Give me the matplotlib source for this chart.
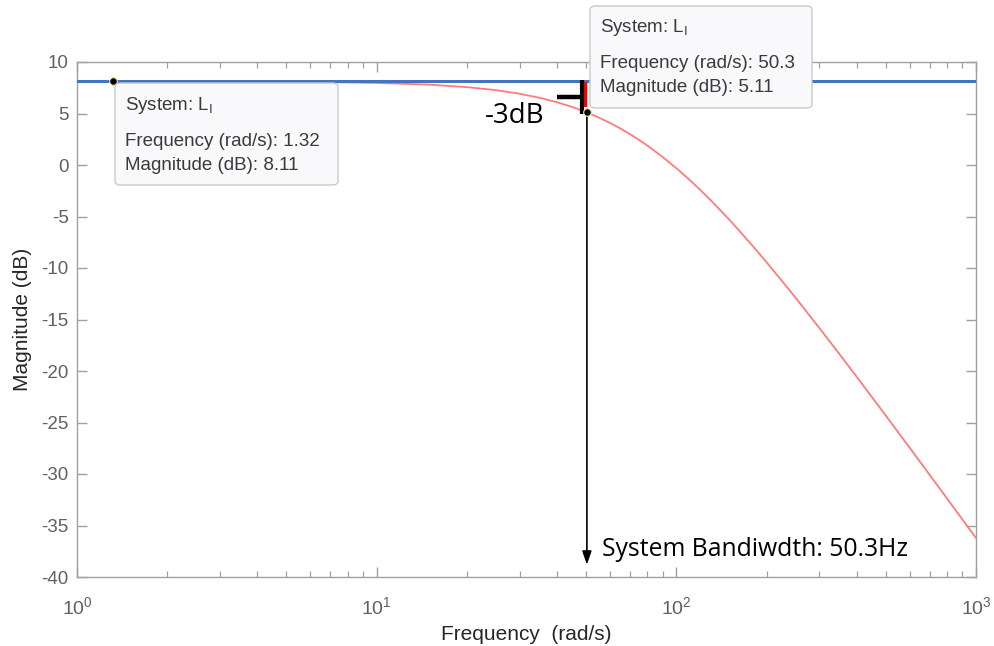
import matplotlib
matplotlib.use("Agg")
import matplotlib.pyplot as plt
from matplotlib.patches import FancyBboxPatch
from matplotlib.ticker import LogLocator, NullFormatter, FixedLocator

plt.rcParams['font.family'] = ['Liberation Sans', 'DejaVu Sans']
plt.rcParams['mathtext.fontset'] = 'custom'
plt.rcParams['mathtext.rm'] = 'Liberation Sans'
plt.rcParams['mathtext.it'] = 'Liberation Sans'
plt.rcParams['axes.unicode_minus'] = False

# ---- data ----
freq = [1, 2, 3, 5, 7, 10, 15, 20, 25, 30, 35, 40, 45, 50.3, 55, 60, 65, 70, 75,
        80, 90, 100, 110, 120, 130, 140, 150, 160, 180, 200, 225, 250, 300, 350,
        400, 450, 500, 600, 700, 800, 900, 1000]
mag = [8.11, 8.10, 8.10, 8.07, 8.04, 7.97, 7.80, 7.56, 7.27, 6.92, 6.52, 6.09,
       5.63, 5.11, 4.62, 4.09, 3.55, 3.00, 2.45, 1.89, 0.78, -0.31, -1.37, -2.40,
       -3.40, -4.37, -5.29, -6.19, -7.87, -9.44, -11.24, -12.89, -15.82, -18.35,
       -20.57, -22.55, -24.33, -27.43, -30.07, -32.37, -34.40, -36.21]
dc_gain = 8.11
tip_freq = [1.32, 50.3]
tip_mag = [8.11, 5.11]
bandwidth = 50.3
y_ticks = [-40, -35, -30, -25, -20, -15, -10, -5, 0, 5, 10]
x_ticks = [1, 10, 100, 1000]
x_ticklabels = ['$10^{0}$', '$10^{1}$', '$10^{2}$', '$10^{3}$']

W, H = 995, 646
fig = plt.figure(figsize=(W / 100, H / 100), dpi=100)
ax = fig.add_axes([77 / W, 1 - 577 / H, (976 - 77) / W, (577 - 62) / H])

ax.plot(freq, mag, color='#ff7b7b', lw=1.3, zorder=2)
ax.plot([freq[0], freq[-1]], [dc_gain, dc_gain], color='#4472c4', lw=2.2, zorder=3)

ax.set_xscale('log')
ax.set_xlim(1, 1000)
ax.set_ylim(-40, 10)
ax.yaxis.set_major_locator(FixedLocator(y_ticks))
ax.xaxis.set_major_locator(FixedLocator(x_ticks))
ax.set_xticklabels(x_ticklabels)
ax.xaxis.set_minor_locator(LogLocator(base=10, subs=range(2, 10)))
ax.xaxis.set_minor_formatter(NullFormatter())

for s in ax.spines.values():
    s.set_color('#a0a0a0')
    s.set_linewidth(1.0)
ax.tick_params(which='both', direction='in', top=True, right=True, colors='#a0a0a0',
               labelcolor='#606060', labelsize=13.5)
ax.tick_params(which='major', length=7, width=1.0)
ax.tick_params(which='minor', length=4, width=0.9)
ax.tick_params(axis='x', pad=14, labelsize=14)
ax.tick_params(axis='y', pad=6)
ax.set_xlabel('Frequency  (rad/s)', fontsize=15, color='#262626', labelpad=5)
ax.set_ylabel('Magnitude (dB)', fontsize=15, color='#262626', labelpad=7)

# bandwidth arrow
ax.annotate('', xy=(bandwidth, -38.8), xytext=(bandwidth, tip_mag[1]),
            arrowprops=dict(arrowstyle='-|>,head_width=0.28,head_length=0.8',
                            color='black', lw=1.2, shrinkA=0, shrinkB=0), zorder=4)
ax.text(bandwidth * 10 ** (15 / 300), -37.3, 'System Bandiwdth: 50.3Hz', fontsize=17.8,
        family=['Open Sans', 'DejaVu Sans'], color='black', va='center', ha='left')

# -3dB bracket (offsets in log-decade fractions of the bandwidth point)
ax.plot([bandwidth * 10 ** (-1.5 / 300)] * 2, [dc_gain - 0.1, tip_mag[1] + 0.5],
        color='red', lw=3.2, zorder=5, solid_capstyle='butt')
ax.plot([bandwidth * 10 ** (-4.5 / 300)] * 2, [dc_gain + 0.1, tip_mag[1] - 0.2],
        color='black', lw=3, zorder=5, solid_capstyle='butt')
ax.plot([bandwidth * 10 ** (-30 / 300), bandwidth * 10 ** (-5 / 300)], [6.6, 6.6],
        color='black', lw=3.2, zorder=5, solid_capstyle='butt')
ax.text(bandwidth * 10 ** (-42 / 300), 4.8, '-3dB', fontsize=20,
        family=['Open Sans', 'DejaVu Sans'], color='black', ha='right', va='center')

# datatip markers
ax.plot(tip_freq, tip_mag, 'o', ms=5.5, mfc='black', mec='#f3e89a', mew=0.8, zorder=6,
        clip_on=False)

# datatip boxes (figure pixel coords)
def tip_box(x0, y0, x1, y1, freq_s, mag_s):
    box = FancyBboxPatch((x0 / W, 1 - y1 / H), (x1 - x0) / W, (y1 - y0) / H,
                         boxstyle='round,pad=0,rounding_size=0.006',
                         transform=fig.transFigure, facecolor='#f9f9fc',
                         edgecolor='#c9c9cc', lw=1.0, zorder=10, clip_on=False)
    fig.patches.append(box)
    tx = (x0 + 10) / W
    kw = dict(transform=fig.transFigure, fontsize=13.5, color='#3a3a3a', zorder=11,
              ha='left', va='center')
    fig.text(tx, 1 - (y0 + 22) / H, 'System: L$_\\mathregular{I}$', **kw)
    fig.text(tx, 1 - (y0 + 58) / H, 'Frequency (rad/s): ' + freq_s, **kw)
    fig.text(tx, 1 - (y0 + 82) / H, 'Magnitude (dB): ' + mag_s, **kw)

tip_box(115, 83, 338, 185, '1.32', '8.11')
tip_box(590, 6, 812, 108, '50.3', '5.11')

fig.savefig('out.png', dpi=100)
